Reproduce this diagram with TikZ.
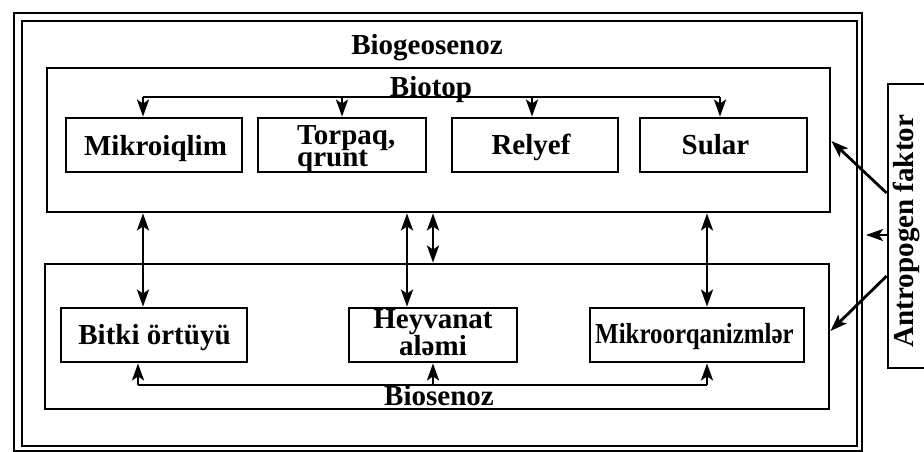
\documentclass[tikz,border=0pt]{standalone}
\usepackage{fontspec}
\setmainfont{Liberation Serif}
\usetikzlibrary{arrows.meta}
\begin{document}
\begin{tikzpicture}[x=1pt,y=-1pt,
  frame/.style={draw,line width=2.2pt},
  box/.style={draw,line width=2.8pt,inner sep=0pt,minimum height=54pt},
  lbl/.style={font=\bfseries\fontsize{29}{22}\selectfont,inner sep=0pt},
  link/.style={line width=2.8pt},
  tip/.tip={Stealth[length=17pt,width=12pt,inset=4pt]},
  arr/.style={line width=2.8pt,-tip},
  darr/.style={line width=2.8pt,tip-tip}
]
\useasboundingbox (0,0) rectangle (924,452);
\clip (0,0) rectangle (924,452);

% double outer frame
\draw[frame] (14,13) rectangle (862,451);
\draw[frame] (22,21) rectangle (857,446);
\node[lbl,anchor=base] (title) at (427,55) {Biogeosenoz};

% biotope block
\node[draw,line width=2.8pt,minimum width=783pt,minimum height=144pt,inner sep=0pt] (biotop) at (438.5,140) {};
\node[lbl,anchor=base] (biotoplbl) at (431,96) {Biotop};
\node[box,minimum width=176pt] (mik) at (154,145) {};
\node[box,minimum width=168pt] (tor) at (342,145) {};
\node[box,minimum width=166pt] (rel) at (535,145) {};
\node[box,minimum width=167pt] (sul) at (723.5,145) {};
\node[lbl,anchor=base] (miklbl) at (155.5,155) {Mikroiqlim};
% a two-line node sits on the baseline of its last line
\node[lbl,anchor=base west,align=left] (torlbl) at (297,166) {Torpaq,\\[-2pt]qrunt};
\node[lbl,anchor=base] (rellbl) at (531,154) {Relyef};
\node[lbl,anchor=base] (sullbl) at (715.5,154) {Sular};

% distribution bus inside the biotope
\coordinate (ta) at (143,97);
\coordinate (tb) at (342,97);
\coordinate (tc) at (532,97);
\coordinate (td) at (720,97);
\draw[link] (ta) -- (td);
\draw[arr] (ta) -- (ta |- mik.north);
\draw[arr] (tb) -- (tb |- tor.north);
\draw[arr] (tc) -- (tc |- rel.north);
\draw[arr] (td) -- (td |- sul.north);

% biocoenosis block
\node[draw,line width=2.8pt,minimum width=784pt,minimum height=145pt,inner sep=0pt] (biosen) at (437,336.5) {};
\node[box,minimum width=186pt] (bit) at (154,335) {};
\node[box,minimum width=168pt] (hey) at (433,335) {};
\node[box,minimum width=214pt] (mor) at (697,335) {};
\node[lbl,anchor=base] (bitlbl) at (154.5,344) {Bitki örtüyü};
\node[lbl,anchor=base,align=center] (heylbl) at (433,355) {Heyvanat\\[-1pt]aləmi};
\node[lbl,anchor=base] (morlbl) at (694.5,343) {\scalebox{0.86}[1]{Mikroorqanizmlər}};
\node[lbl,anchor=base] (biosenlbl) at (439,405) {Biosenoz};

% connecting bus inside the biocoenosis
\coordinate (ba) at (138,385);
\coordinate (bb) at (433,385);
\coordinate (bc) at (707,385);
\draw[link] (ba) -- (bc);
\draw[arr] (ba) -- (ba |- bit.south);
\draw[arr] (bb) -- (bb |- hey.south);
\draw[arr] (bc) -- (bc |- mor.south);

% exchanges between biotope and biocoenosis
\coordinate (va) at (143,0);
\coordinate (vb) at (407,0);
\coordinate (vc) at (433,0);
\coordinate (vd) at (707,0);
\draw[darr] (va |- biotop.south) -- (va |- bit.north);
\draw[darr] (vb |- biotop.south) -- (vb |- hey.north);
\draw[darr] (vc |- biotop.south) -- (vc |- biosen.north);
\draw[darr] (vd |- biotop.south) -- (vd |- mor.north);

% anthropogenic factor
\node[draw,line width=2.8pt,minimum width=40pt,minimum height=284pt,inner sep=0pt] (ant) at (908,226) {};
\node[lbl,rotate=90] (antlbl) at (906,231) {Antropogen faktor};
\coordinate (a1) at (ant.west |- 0,193);
\coordinate (a2) at (ant.west |- 0,235);
\coordinate (a3) at (ant.west |- 0,276);
\coordinate (e1) at (biotop.east |- 0,141);
\coordinate (e2) at (866,235);
\coordinate (e3) at (biosen.east |- 0,331);
\draw[arr] (a1) -- (e1);
\draw[arr] (a2) -- (e2);
\draw[arr] (a3) -- (e3);
\end{tikzpicture}
\end{document}
